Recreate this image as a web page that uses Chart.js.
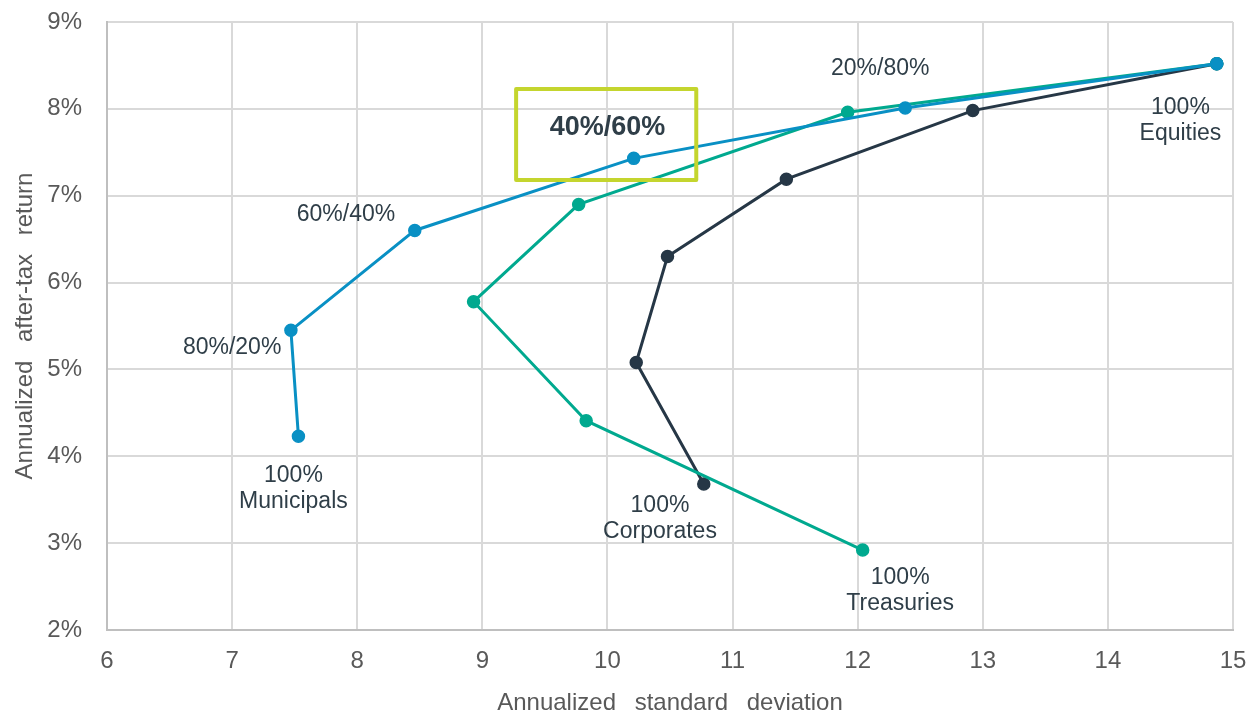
<!DOCTYPE html>
<html><head><meta charset="utf-8">
<script src="https://cdn.jsdelivr.net/npm/chart.js@4.4.1/dist/chart.umd.min.js"></script>
<style>html,body{margin:0;padding:0;background:#fff;overflow:hidden}#wrap{width:1249px;height:716px;position:relative}</style>
</head><body><div id="wrap"><canvas id="c"></canvas></div>
<script>
// Allocation steps (fixed income / equities), from 100% bonds to 100% equities
const allocations = ['100% bonds', '80%/20%', '60%/40%', '40%/60%', '20%/80%', '100% Equities'];
// Annualized standard deviation (x) and annualized after-tax return in % (y)
const municipalsX = [7.53, 7.47, 8.46, 10.21, 12.38, 14.87];
const municipalsY = [4.23, 5.45, 6.60, 7.43, 8.01, 8.52];
const treasuriesX = [12.04, 9.83, 8.93, 9.77, 11.92, 14.87];
const treasuriesY = [2.92, 4.41, 5.78, 6.90, 7.96, 8.52];
const corporatesX = [10.77, 10.23, 10.48, 11.43, 12.92, 14.87];
const corporatesY = [3.68, 5.08, 6.30, 7.19, 7.98, 8.52];
const xTicks = [6, 7, 8, 9, 10, 11, 12, 13, 14, 15];
const yTicks = [2, 3, 4, 5, 6, 7, 8, 9];

// Text annotations, placed in data coordinates (x = std dev, y = return)
const labelTexts = [['60%/40%'], ['80%/20%'], ['100%', 'Municipals'], ['100%', 'Corporates'], ['100%', 'Treasuries'], ['100%', 'Equities'], ['20%/80%'], ['40%/60%']];
const labelX = [7.91, 7.00, 7.49, 10.42, 12.34, 14.58, 12.18, 10.0];
const labelY = [6.78, 5.25, 3.78, 3.43, 2.60, 8.01, 8.46, 7.79];
const highlightBox = [9.27, 10.71, 8.23, 7.18]; // xMin, xMax, yTop, yBottom

const toPoints = (xs, ys) => xs.map((x, i) => ({x: x, y: ys[i]}));

const BLUE = '#0990C4', TEAL = '#00A98F', NAVY = '#263746';
const TEXT = '#2F3E48', TICK = '#595959';
const FONT = "'Liberation Sans', Arial, sans-serif";

const annotate = {
  id: 'annotate',
  beforeDraw(chart) { chart.ctx.wordSpacing = '12px'; },
  afterDatasetsDraw(chart) {
    const ctx = chart.ctx, xs = chart.scales.x, ys = chart.scales.y;
    ctx.save();
    ctx.fillStyle = TEXT;
    ctx.textAlign = 'center';
    ctx.textBaseline = 'middle';
    labelTexts.forEach((lines, i) => {
      const bold = lines[0] === '40%/60%';
      ctx.font = (bold ? 'bold 27px ' : '23px ') + FONT;
      const px = xs.getPixelForValue(labelX[i]);
      const py = ys.getPixelForValue(labelY[i]);
      lines.forEach((t, j) => ctx.fillText(t, px, py + j * 26));
    });
    const bx1 = xs.getPixelForValue(highlightBox[0]);
    const bx2 = xs.getPixelForValue(highlightBox[1]);
    const by1 = ys.getPixelForValue(highlightBox[2]);
    const by2 = ys.getPixelForValue(highlightBox[3]);
    ctx.strokeStyle = '#C4D52E';
    ctx.lineWidth = 4;
    ctx.lineJoin = 'round';
    ctx.strokeRect(bx1, by1, bx2 - bx1, by2 - by1);
    ctx.restore();
  }
};

const ds = (label, xs, ys, color, order) => ({
  label: label,
  data: toPoints(xs, ys),
  borderColor: color,
  backgroundColor: color,
  pointBackgroundColor: color,
  pointBorderColor: color,
  borderWidth: 3,
  pointRadius: 6,
  pointBorderWidth: 1.5,
  showLine: true,
  tension: 0,
  order: order
});

new Chart(document.getElementById('c'), {
  type: 'scatter',
  data: {
    datasets: [
      ds('Municipals', municipalsX, municipalsY, BLUE, 0),
      ds('Treasuries', treasuriesX, treasuriesY, TEAL, 1),
      ds('Corporates', corporatesX, corporatesY, NAVY, 2)
    ]
  },
  options: {
    responsive: true,
    maintainAspectRatio: false,
    animation: false,
    layout: {padding: {left: 0, right: 16, top: 22, bottom: 0}},
    plugins: {legend: {display: false}, tooltip: {enabled: false}},
    scales: {
      x: {
        type: 'linear', min: xTicks[0], max: xTicks[xTicks.length - 1],
        afterBuildTicks: s => { s.ticks = xTicks.map(v => ({value: v})); },
        afterFit: s => { s.height = 86; s.paddingLeft = 0; s.paddingRight = 0; },
        ticks: {color: TICK, font: {family: FONT, size: 24}, padding: 17, maxRotation: 0},
        grid: {color: '#D9D9D9', lineWidth: 2, drawTicks: false},
        border: {color: '#BFBFBF', width: 2},
        title: {display: true, text: 'Annualized standard deviation', color: TICK,
                font: {family: FONT, size: 24, lineHeight: 1}, padding: {top: 0, bottom: 1}}
      },
      y: {
        type: 'linear', min: yTicks[0], max: yTicks[yTicks.length - 1],
        afterBuildTicks: s => { s.ticks = yTicks.map(v => ({value: v})); },
        afterFit: s => { s.width = 107; s.paddingTop = 0; s.paddingBottom = 0; },
        ticks: {color: TICK, font: {family: FONT, size: 24}, padding: 25, callback: v => v + '%'},
        grid: {color: '#D9D9D9', lineWidth: 2, drawTicks: false},
        border: {color: '#BFBFBF', width: 2},
        title: {display: true, text: 'Annualized after-tax return', color: TICK,
                font: {family: FONT, size: 24, lineHeight: 1}, padding: {top: 13, bottom: 0}}
      }
    }
  },
  plugins: [annotate]
});
</script>
</body></html>
